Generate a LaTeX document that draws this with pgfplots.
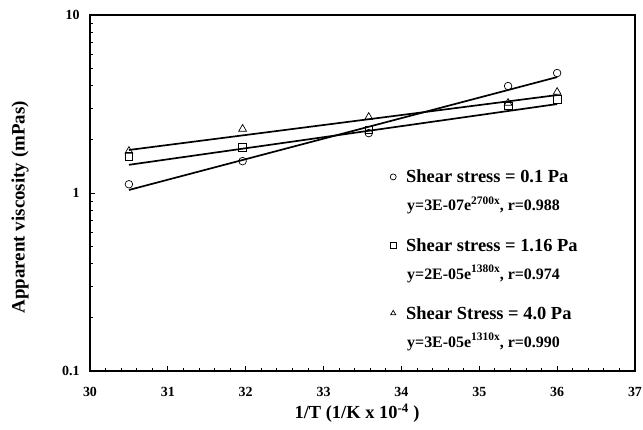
\documentclass[border=0pt]{standalone}
\usepackage{fontspec}
\setmainfont{Liberation Serif}
\usepackage{pgfplots}
\pgfplotsset{compat=1.18}
\newcommand\legtwo[2]{\vtop{\baselineskip=28bp\lineskiplimit=-100bp\lineskip=0pt
  \hbox{\bfseries\fontsize{18.5}{18.5}\selectfont #1}%
  \hbox{\kern1bp\bfseries\fontsize{16}{16}\selectfont #2}}}
\newcommand\sups[1]{\raisebox{0.42em}{\fontsize{11.5}{11.5}\selectfont #1}}
\begin{document}
\begin{tikzpicture}
\begin{axis}[
  at={(0bp,0bp)}, anchor=south west,
  scale only axis, width=545bp, height=356bp,
  xmin=30, xmax=37, ymin=0.1, ymax=10, ymode=log,
  xtick={30,31,32,33,34,35,36,37}, minor x tick num=4,
  ytick={0.1,1,10}, yticklabels={0.1,1,10},
  tick pos=left,
  axis line style={line width=2bp},
  tick style={black, line width=0.8bp},
  major tick length=5bp, minor tick length=3.5bp,
  /pgf/number format/assume math mode=true,
  xticklabel style={font=\bfseries\fontsize{14}{14}\selectfont, yshift=-13bp},
  yticklabel style={font=\bfseries\fontsize{14}{14}\selectfont, xshift=-7bp},
  xlabel={1/T (1/K x 10\textsuperscript{-4} )},
  xlabel style={font=\bfseries\fontsize{18.5}{18.5}\selectfont, at={(axis description cs:0.49,-0.118)}, anchor=center},
  ylabel={Apparent viscosity (mPas)},
  ylabel style={font=\bfseries\fontsize{19}{19}\selectfont, at={(axis description cs:-0.1284,0.46)}, anchor=center},
  legend cell align=left,
  legend style={at={(axis description cs:0.545,0.576)}, anchor=north west, draw=none, fill=none, row sep=20bp,
    cells={anchor=base west}, nodes={text depth=},
    /tikz/every odd column/.append style={column sep=8bp}},
  legend image post style={mark size=3bp, yshift=6bp},
]
\addplot[black, line width=1.7bp, no marks, forget plot] coordinates {(30.5,1.04) (36,4.48)};
\addplot[black, line width=1.7bp, no marks, forget plot] coordinates {(30.5,1.44) (36,3.16)};
\addplot[black, line width=1.7bp, no marks, forget plot] coordinates {(30.5,1.745) (36,3.55)};
\addplot[black, only marks, mark=o, mark size=3.8bp, mark options={line width=0.7bp, fill=white}] coordinates {
(30.5,1.12) (31.96,1.51) (33.58,2.17) (35.37,3.99) (36.0,4.72)};
\addlegendentry{\legtwo{Shear stress = 0.1 Pa}{y=3E-07e\sups{2700x}, r=0.988}}
\addplot[black, only marks, mark=square, mark size=3.8bp, mark options={line width=0.7bp, fill=white}] coordinates {
(30.5,1.61) (31.96,1.81) (33.58,2.26) (35.37,3.08) (36.0,3.37)};
\addlegendentry{\legtwo{Shear stress = 1.16 Pa}{y=2E-05e\sups{1380x}, r=0.974}}
\addplot[black, only marks, mark=triangle, mark size=4.5bp, mark options={line width=0.7bp, fill=white}] coordinates {
(30.5,1.72) (31.96,2.29) (33.58,2.67) (35.37,3.2) (36.0,3.69)};
\addlegendentry{\legtwo{Shear Stress = 4.0 Pa}{y=3E-05e\sups{1310x}, r=0.990}}
\end{axis}
\pgfresetboundingbox
\path (-90bp,-59bp) rectangle (553bp,371bp);
\end{tikzpicture}
\end{document}
